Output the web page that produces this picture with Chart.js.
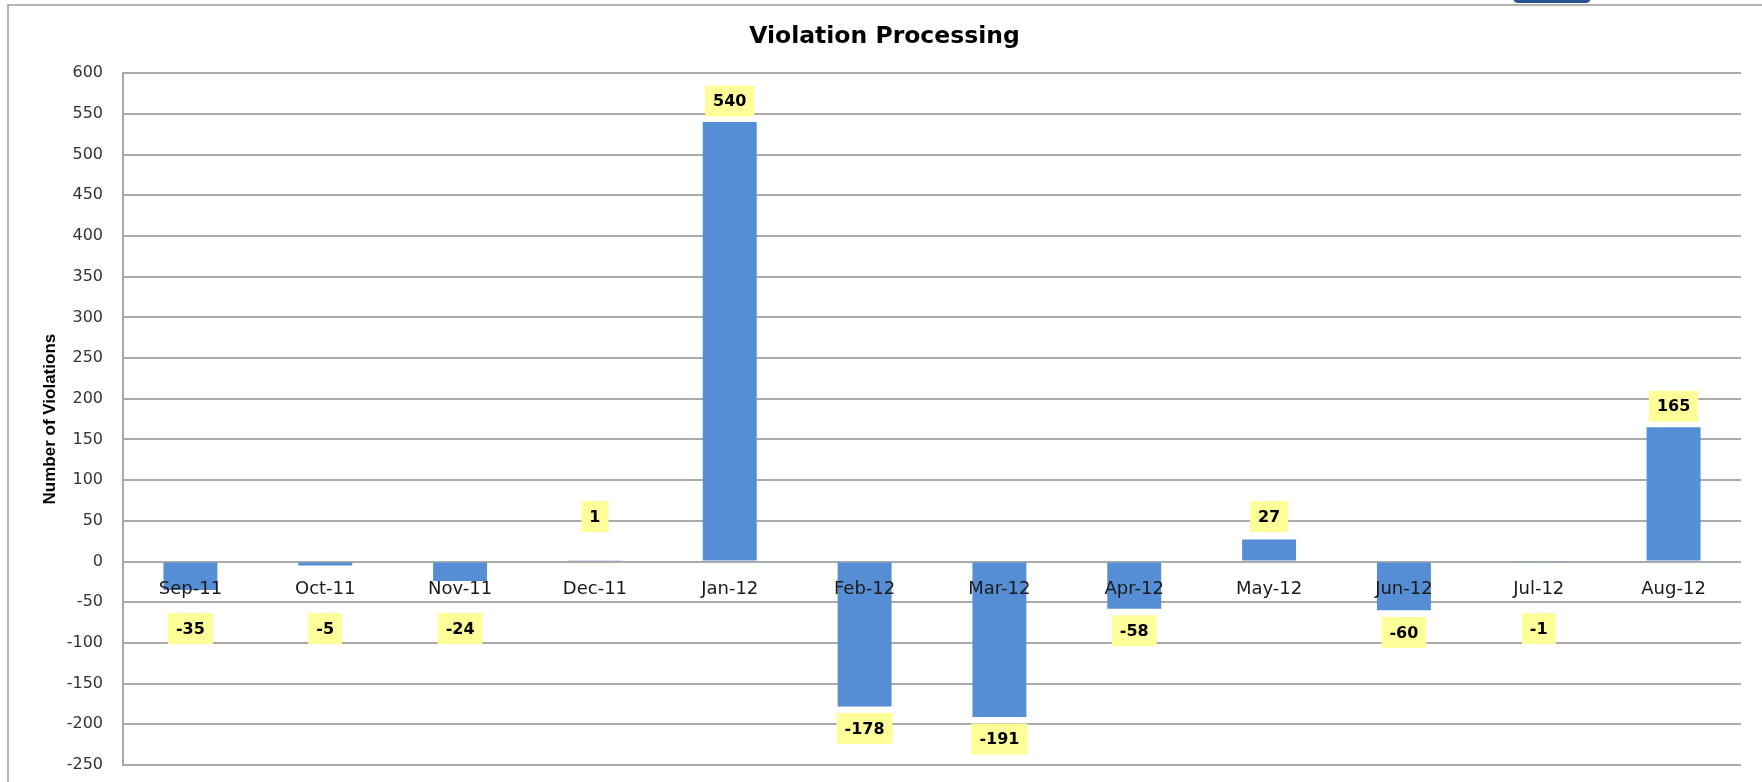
<!DOCTYPE html>
<html>
<head>
<meta charset="utf-8">
<script src="https://cdn.jsdelivr.net/npm/chart.js@4.4.1/dist/chart.umd.min.js"></script>
<style>
  html, body { margin: 0; padding: 0; background: #fff; overflow: hidden; }
  #frame { position: absolute; left: 7px; top: 4px; width: 1800px; height: 820px; border: 2px solid #b4b4b4; box-sizing: border-box; }
  #tab { position: absolute; left: 1513px; top: -8px; width: 78px; height: 11px; background: #2a5592; border-radius: 7px; }
  #wrap { position: absolute; left: 0; top: 0; width: 1762px; height: 782px; }
</style>
</head>
<body>
<div id="frame"></div>
<div id="tab"></div>
<div id="wrap"><canvas id="chart"></canvas></div>
<script>
const months = ["Sep-11", "Oct-11", "Nov-11", "Dec-11", "Jan-12", "Feb-12",
                "Mar-12", "Apr-12", "May-12", "Jun-12", "Jul-12", "Aug-12"];
const violations = [-35, -5, -24, 1, 540, -178, -191, -58, 27, -60, -1, 165];
const yMin = -250;
const yMax = 600;
const yStep = 50;

// yellow value boxes, pushed clear of the month labels for small bars
const valueBoxes = {
  id: "valueBoxes",
  afterDatasetsDraw(chart) {
    const ctx = chart.ctx;
    const zero = chart.scales.y.getPixelForValue(0);
    const meta = chart.getDatasetMeta(0);
    ctx.save();
    ctx.font = "bold 16px 'DejaVu Sans'";
    ctx.textAlign = "center";
    ctx.textBaseline = "middle";
    meta.data.forEach((bar, i) => {
      const v = violations[i];
      let cy;
      if (v >= 0) cy = Math.min(bar.y - 21, zero - 45);
      else cy = Math.max(bar.y + 22, zero + 67);
      const txt = String(v);
      const w = ctx.measureText(txt).width + 16;
      ctx.fillStyle = "#ffff99";
      ctx.fillRect(bar.x - w / 2, cy - 15.5, w, 31);
      ctx.fillStyle = "#000";
      ctx.fillText(txt, bar.x, cy + 1);
    });
    ctx.restore();
  }
};

new Chart(document.getElementById("chart"), {
  type: "bar",
  data: {
    labels: months,
    datasets: [{
      data: violations,
      backgroundColor: "#558ed5",
      barPercentage: 1,
      categoryPercentage: 0.4
    }]
  },
  options: {
    responsive: true,
    maintainAspectRatio: false,
    animation: false,
    layout: { padding: { left: 28, right: 21, top: 0, bottom: 17 } },
    plugins: {
      legend: { display: false },
      tooltip: { enabled: false },
      title: {
        display: true,
        text: "Violation Processing",
        color: "#000",
        font: { family: "DejaVu Sans", size: 23.5, weight: "bold" },
        padding: { top: 23, bottom: 22 }
      }
    },
    scales: {
      x: {
        position: { y: 0 },
        grid: { display: false, drawTicks: false },
        border: { display: false },
        ticks: { z: 1, padding: 17, color: "#1a1a1a", font: { family: "DejaVu Sans", size: 18 } },
        afterFit(scale) {
          scale.height = 0;
          scale.paddingTop = 0;
          scale.paddingBottom = 0;
        }
      },
      y: {
        min: yMin,
        max: yMax,
        ticks: { stepSize: yStep, padding: 20, color: "#333", font: { family: "DejaVu Sans", size: 16 } },
        grid: { color: "#aaaaaa", lineWidth: 2, drawTicks: false },
        border: { display: true, color: "#aaaaaa", width: 2 },
        title: {
          display: true,
          text: "Number of Violations",
          color: "#000",
          font: { family: "Liberation Sans", size: 17, weight: "bold" },
          padding: { top: 12, bottom: 0 }
        },
        afterFit(scale) {
          scale.width = 95;
          scale.paddingBottom = 0;
        }
      }
    }
  },
  plugins: [valueBoxes]
});
</script>
</body>
</html>
